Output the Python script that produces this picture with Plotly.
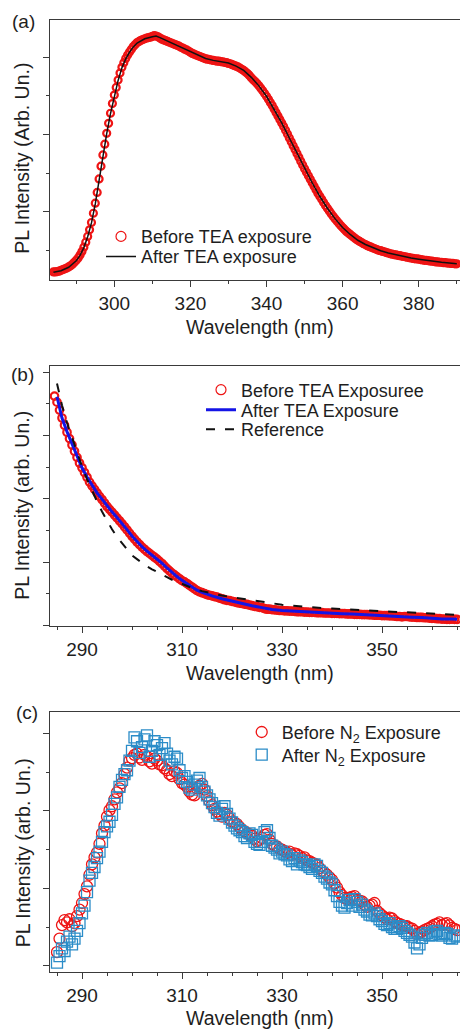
import plotly.graph_objects as go

# ---------------- data ----------------
# (a) PL spectra before / after TEA exposure (before: 0.5 nm grid starting at 284.0 nm)
a_start, a_step = 284.0, 0.5
pl_a_before = [
    0.44, 0.44, 0.45, 0.46, 0.48, 0.50, 0.52, 0.54, 0.57, 0.60,
    0.64, 0.69, 0.74, 0.80, 0.88, 0.97, 1.08, 1.21, 1.36, 1.53,
    1.72, 1.96, 2.22, 2.50, 2.85, 3.18, 3.47, 3.75, 4.03, 4.29,
    4.55, 4.80, 5.02, 5.22, 5.41, 5.59, 5.74, 5.86, 5.97, 6.06,
    6.14, 6.21, 6.28, 6.33, 6.38, 6.41, 6.44, 6.46, 6.48, 6.50,
    6.51, 6.52, 6.54, 6.56, 6.55, 6.53, 6.50, 6.47, 6.45, 6.43,
    6.41, 6.39, 6.37, 6.35, 6.33, 6.31, 6.29, 6.26, 6.24, 6.21,
    6.19, 6.16, 6.13, 6.10, 6.08, 6.06, 6.04, 6.02, 6.00, 5.98,
    5.96, 5.95, 5.94, 5.93, 5.92, 5.91, 5.90, 5.90, 5.89, 5.88,
    5.87, 5.86, 5.84, 5.83, 5.81, 5.79, 5.77, 5.75, 5.72, 5.69,
    5.66, 5.62, 5.58, 5.53, 5.47, 5.42, 5.37, 5.32, 5.26, 5.20,
    5.13, 5.06, 4.99, 4.91, 4.83, 4.75, 4.66, 4.57, 4.48, 4.39,
    4.30, 4.21, 4.11, 4.01, 3.91, 3.81, 3.71, 3.61, 3.51, 3.41,
    3.31, 3.21, 3.11, 3.02, 2.93, 2.84, 2.75, 2.66, 2.57, 2.48,
    2.40, 2.32, 2.24, 2.16, 2.09, 2.02, 1.95, 1.88, 1.82, 1.76,
    1.70, 1.64, 1.59, 1.54, 1.49, 1.45, 1.41, 1.37, 1.33, 1.29,
    1.26, 1.23, 1.20, 1.17, 1.15, 1.12, 1.10, 1.08, 1.06, 1.04,
    1.02, 1.00, 0.99, 0.97, 0.96, 0.94, 0.93, 0.91, 0.90, 0.89,
    0.88, 0.87, 0.86, 0.85, 0.84, 0.83, 0.82, 0.81, 0.80, 0.79,
    0.78, 0.78, 0.77, 0.76, 0.75, 0.74, 0.74, 0.73, 0.72, 0.72,
    0.71, 0.70, 0.70, 0.69, 0.69, 0.68, 0.68, 0.67, 0.67, 0.66,
    0.66, 0.65, 0.65]
wl_a_before = [a_start + a_step * i for i in range(len(pl_a_before))]

wl_a_after = [284, 286, 288, 290, 291, 292, 293, 294, 295, 296, 297, 298, 299, 300, 301, 302, 303, 304, 305,
              306, 308, 310, 311, 312, 314, 316, 318, 320, 322, 324, 326, 328, 330, 332, 334, 336, 338, 340,
              342, 344, 346, 348, 350, 352, 354, 356, 358, 360, 362, 364, 366, 368, 370, 372, 374, 376, 378,
              380, 382, 384, 386, 388, 390]
pl_a_after = [0.43, 0.47, 0.56, 0.73, 0.87, 1.07, 1.35, 1.71, 2.20, 2.83, 3.46, 4.02, 4.54, 5.01, 5.40, 5.73,
              5.96, 6.13, 6.27, 6.37, 6.48, 6.53, 6.55, 6.51, 6.42, 6.33, 6.24, 6.14, 6.04, 5.97, 5.92, 5.89,
              5.85, 5.77, 5.66, 5.48, 5.26, 4.99, 4.66, 4.30, 3.91, 3.51, 3.11, 2.75, 2.40, 2.09, 1.82, 1.59,
              1.41, 1.26, 1.15, 1.06, 0.99, 0.93, 0.88, 0.84, 0.80, 0.77, 0.74, 0.71, 0.69, 0.67, 0.65]

# (b) before TEA exposure (0.5 nm grid from 284.5 nm), after, and reference
b_start, b_step = 284.5, 0.5
pl_b_before = [
    7.24, 7.05, 6.80, 6.55, 6.32, 6.10, 5.90, 5.70, 5.50, 5.31,
    5.13, 4.98, 4.83, 4.68, 4.53, 4.41, 4.30, 4.19, 4.08, 3.98,
    3.87, 3.76, 3.67, 3.58, 3.49, 3.40, 3.31, 3.22, 3.12, 3.02,
    2.92, 2.82, 2.73, 2.64, 2.56, 2.48, 2.41, 2.34, 2.28, 2.22,
    2.16, 2.10, 2.03, 1.96, 1.88, 1.80, 1.73, 1.66, 1.60, 1.54,
    1.48, 1.42, 1.38, 1.33, 1.27, 1.22, 1.16, 1.11, 1.07, 1.04,
    1.01, 0.98, 0.96, 0.94, 0.92, 0.90, 0.87, 0.85, 0.82, 0.80,
    0.79, 0.77, 0.75, 0.73, 0.71, 0.70, 0.68, 0.67, 0.65, 0.63,
    0.61, 0.60, 0.58, 0.57, 0.54, 0.52, 0.52, 0.51, 0.50, 0.49,
    0.48, 0.48, 0.47, 0.47, 0.46, 0.46, 0.45, 0.44, 0.44, 0.44,
    0.43, 0.43, 0.42, 0.42, 0.42, 0.41, 0.41, 0.41, 0.40, 0.40,
    0.40, 0.39, 0.39, 0.39, 0.38, 0.38, 0.38, 0.37, 0.37, 0.37,
    0.36, 0.36, 0.36, 0.35, 0.35, 0.35, 0.34, 0.34, 0.33, 0.33,
    0.33, 0.32, 0.32, 0.32, 0.31, 0.31, 0.30, 0.29, 0.29, 0.28,
    0.29, 0.29, 0.28, 0.27, 0.27, 0.26, 0.26, 0.26, 0.25, 0.25,
    0.24, 0.23, 0.23, 0.22, 0.22, 0.21, 0.21, 0.20, 0.20, 0.21,
    0.20, 0.20]
wl_b_before = [b_start + b_step * i for i in range(len(pl_b_before))]

wl_b_after = [285, 286, 287, 288, 289, 290, 291, 292, 293, 294, 295, 296, 297, 298, 299, 300, 301, 302, 303,
              304, 305, 306, 307, 308, 309, 310, 311, 312, 313, 314, 315, 316, 318, 320, 322, 324, 326, 328,
              330, 332, 334, 336, 338, 340, 342, 344, 346, 348, 350, 352, 354, 356, 358, 360, 362, 364, 365]
pl_b_after = [7.22, 6.55, 6.12, 5.72, 5.32, 4.98, 4.69, 4.42, 4.19, 3.99, 3.78, 3.59, 3.41, 3.23, 3.03,
              2.83, 2.65, 2.49, 2.35, 2.23, 2.11, 1.97, 1.82, 1.67, 1.55, 1.43, 1.33, 1.23, 1.12, 1.05,
              0.99, 0.94, 0.85, 0.77, 0.70, 0.63, 0.57, 0.51, 0.48, 0.46, 0.44, 0.42, 0.41, 0.39, 0.38,
              0.37, 0.35, 0.34, 0.32, 0.31, 0.28, 0.27, 0.26, 0.23, 0.21, 0.21, 0.20]
wl_b_ref = [285, 286, 287, 288, 289, 290, 291, 292, 293, 294, 295, 296, 297, 298, 299, 300, 301, 302, 303,
            304, 305, 306, 307, 308, 309, 310, 312, 314, 316, 318, 320, 322, 324, 326, 328, 330, 332, 334,
            336, 338, 340, 342, 344, 346, 348, 350, 352, 354, 356, 358, 360, 362, 364, 365]
pl_b_ref = [7.64, 6.95, 6.40, 5.92, 5.45, 5.02, 4.62, 4.25, 3.92, 3.60, 3.30, 3.04, 2.80, 2.60, 2.40, 2.22,
            2.10, 1.98, 1.87, 1.78, 1.69, 1.61, 1.53, 1.45, 1.38, 1.31, 1.19, 1.09, 1.01, 0.95, 0.90, 0.85,
            0.80, 0.75, 0.70, 0.66, 0.63, 0.60, 0.58, 0.56, 0.54, 0.52, 0.50, 0.49, 0.47, 0.46, 0.44, 0.43,
            0.41, 0.40, 0.38, 0.37, 0.35, 0.34]

# (c) before / after N2 exposure (0.5 nm grid from 285.0 nm)
c_start, c_step = 285.0, 0.5
pl_c_before = [
    0.35, 0.70, 1.05, 1.18, 1.12, 1.20, 1.02, 1.10, 1.28, 1.45,
    1.62, 1.85, 2.05, 2.35, 2.62, 2.80, 2.92, 3.15, 3.42, 3.62,
    3.85, 4.02, 4.12, 4.30, 4.48, 4.58, 4.72, 4.95, 5.12, 5.30,
    5.36, 5.45, 5.48, 5.38, 5.32, 5.45, 5.40, 5.28, 5.22, 5.35,
    5.30, 5.20, 5.18, 5.10, 5.05, 4.95, 4.90, 5.02, 4.98, 4.82,
    4.72, 4.68, 4.62, 4.50, 4.42, 4.40, 4.58, 4.65, 4.70, 4.55,
    4.38, 4.25, 4.15, 4.05, 3.98, 3.92, 3.85, 3.95, 3.90, 3.80,
    3.72, 3.70, 3.66, 3.58, 3.50, 3.48, 3.42, 3.40, 3.36, 3.28,
    3.22, 3.25, 3.30, 3.38, 3.40, 3.25, 3.15, 3.10, 3.08, 3.02,
    3.00, 2.96, 2.92, 2.95, 2.86, 2.90, 2.88, 2.84, 2.78, 2.80,
    2.72, 2.70, 2.66, 2.64, 2.60, 2.52, 2.45, 2.40, 2.35, 2.28,
    2.22, 2.12, 2.02, 1.90, 1.82, 1.75, 1.72, 1.76, 1.78, 1.80,
    1.70, 1.68, 1.66, 1.58, 1.52, 1.55, 1.58, 1.62, 1.42, 1.36,
    1.30, 1.25, 1.20, 1.24, 1.22, 1.15, 1.10, 1.08, 1.05, 1.03,
    1.02, 0.98, 0.96, 0.90, 0.82, 0.85, 0.88, 0.92, 0.95, 0.98,
    1.02, 1.06, 1.08, 1.12, 1.05, 1.08, 1.10, 1.04, 0.98, 0.95,
    0.92]
pl_c_after = [
    0.08, 0.25, 0.45, 0.38, 0.62, 0.75, 0.55, 0.70, 0.90, 1.10,
    1.35, 1.55, 1.90, 2.20, 2.40, 2.55, 2.78, 2.95, 3.20, 3.45,
    3.60, 3.72, 3.90, 4.18, 4.35, 4.62, 4.80, 4.95, 5.05, 5.30,
    5.55, 5.90, 5.80, 5.50, 5.65, 5.85, 5.95, 5.40, 5.55, 5.80,
    5.70, 5.45, 5.62, 5.75, 5.48, 5.30, 5.20, 5.40, 5.35, 5.05,
    4.85, 4.90, 4.75, 4.60, 4.55, 4.68, 4.78, 4.85, 4.62, 4.50,
    4.40, 4.30, 4.20, 4.10, 3.95, 3.88, 4.05, 4.12, 3.92, 3.80,
    3.70, 3.62, 3.55, 3.50, 3.45, 3.35, 3.30, 3.42, 3.38, 3.20,
    3.15, 3.12, 3.20, 3.45, 3.50, 3.30, 3.10, 3.05, 3.00, 2.90,
    2.95, 2.88, 2.85, 2.75, 2.70, 2.78, 2.62, 2.72, 2.68, 2.62,
    2.60, 2.55, 2.50, 2.62, 2.58, 2.45, 2.40, 2.30, 2.25, 2.15,
    2.10, 1.95, 1.80, 1.65, 1.55, 1.50, 1.62, 1.70, 1.55, 1.72,
    1.65, 1.52, 1.58, 1.45, 1.40, 1.32, 1.30, 1.35, 1.28, 1.20,
    1.15, 1.08, 1.05, 1.10, 1.00, 0.95, 0.95, 1.02, 0.98, 0.90,
    0.85, 0.80, 0.75, 0.60, 0.45, 0.55, 0.72, 0.80, 0.85, 0.78,
    0.80, 0.88, 0.90, 0.82, 0.78, 0.85, 0.82, 0.72, 0.70, 0.78,
    0.75]
wl_c = [c_start + c_step * i for i in range(len(pl_c_before))]

panel_labels = ["(a)", "(b)", "(c)"]
x_title = "Wavelength (nm)"
y_titles = ["PL Intensity (Arb. Un.)", "PL Intensity (arb. Un.)", "PL Intensity (arb. Un.)"]

# ---------------- styling ----------------
FONT = "Liberation Sans, Arial, Helvetica, sans-serif"
TXT = "#1e1e1e"
AX = "#3a3a3a"
RED = "#ee1414"
BLUE_LINE = "#1414e6"
BLUE_SQ = "#2a8cc8"
W, H = 460, 1029


def py2paper(p):
    return 1 - p / H


fig = go.Figure()

# (a)
fig.add_trace(go.Scatter(x=wl_a_before, y=pl_a_before, mode="markers", name="Before TEA exposure",
                         marker=dict(symbol="circle-open", size=7, color=RED, line=dict(width=2.2)),
                         xaxis="x", yaxis="y", showlegend=False))
fig.add_trace(go.Scatter(x=[None], y=[None], mode="markers", name="Before TEA exposure",
                         marker=dict(symbol="circle-open", size=10, color=RED, line=dict(width=1.2)),
                         xaxis="x", yaxis="y", legend="legend"))
fig.add_trace(go.Scatter(x=wl_a_after, y=pl_a_after, mode="lines", name="After TEA exposure",
                         line=dict(color="#111111", width=1.5),
                         xaxis="x", yaxis="y", legend="legend2"))

# (b)
fig.add_trace(go.Scatter(x=wl_b_before, y=pl_b_before, mode="markers", name="Before TEA Exposuree",
                         marker=dict(symbol="circle-open", size=7.5, color=RED, line=dict(width=2.2)),
                         xaxis="x2", yaxis="y2", showlegend=False))
fig.add_trace(go.Scatter(x=[None], y=[None], mode="markers", name="Before TEA Exposuree",
                         marker=dict(symbol="circle-open", size=10, color=RED, line=dict(width=1.2)),
                         xaxis="x2", yaxis="y2", legend="legend3"))
fig.add_trace(go.Scatter(x=wl_b_after, y=pl_b_after, mode="lines", name="After TEA Exposure",
                         line=dict(color=BLUE_LINE, width=3),
                         xaxis="x2", yaxis="y2", legend="legend4"))
fig.add_trace(go.Scatter(x=wl_b_ref, y=pl_b_ref, mode="lines", name="Reference",
                         line=dict(color="#111111", width=2, dash="9px,10px"),
                         xaxis="x2", yaxis="y2", legend="legend5"))

# (c)
fig.add_trace(go.Scatter(x=wl_c, y=pl_c_before, mode="markers", name="Before N<sub>2</sub> Exposure",
                         marker=dict(symbol="circle-open", size=11, color=RED, line=dict(width=1.3)),
                         xaxis="x3", yaxis="y3", legend="legend6"))
fig.add_trace(go.Scatter(x=wl_c, y=pl_c_after, mode="markers", name="After N<sub>2</sub> Exposure",
                         marker=dict(symbol="square-open", size=11, color=BLUE_SQ, line=dict(width=1.3)),
                         xaxis="x3", yaxis="y3", legend="legend7"))


def xaxis_cfg(rng, tick0, minor_dtick, anchor):
    return dict(domain=[50 / W, 1.0], range=rng, anchor=anchor, tickmode="linear", tick0=tick0, dtick=20,
                ticks="outside", ticklen=6, tickwidth=1.2, tickcolor=AX, showline=True, linecolor=AX,
                linewidth=1.3, mirror=True, showgrid=False, zeroline=False,
                tickfont=dict(family=FONT, size=19, color=TXT),
                minor=dict(tickmode="linear", tick0=tick0, dtick=minor_dtick, ticks="outside", ticklen=3,
                           tickwidth=1.2, tickcolor=AX, showgrid=False))


def yaxis_cfg(dom, rng, anchor):
    return dict(domain=dom, range=rng, anchor=anchor, tickmode="linear", tick0=0, dtick=2,
                ticks="outside", ticklen=6, tickwidth=1.2, tickcolor=AX, showline=True, linecolor=AX,
                linewidth=1.3, mirror=False, showgrid=False, zeroline=False, showticklabels=False,
                minor=dict(tickmode="linear", tick0=0, dtick=1, ticks="outside", ticklen=3,
                           tickwidth=1.2, tickcolor=AX, showgrid=False))


def legend_at(cx, cy):
    # one legend per entry: symbol centre at (cx, cy) in pixels
    return dict(x=(cx - 20) / W, y=py2paper(cy), xanchor="left", yanchor="middle",
                bgcolor="rgba(0,0,0,0)", borderwidth=0, itemwidth=30,
                font=dict(family=FONT, size=18, color=TXT))


fig.update_layout(
    width=W, height=H, margin=dict(l=0, r=0, t=0, b=0),
    paper_bgcolor="white", plot_bgcolor="white",
    font=dict(family=FONT, color=TXT),
    xaxis=xaxis_cfg([283.1, 390.85], 300, 10, "y"),
    yaxis=yaxis_cfg([py2paper(280), py2paper(19.5)], [0.2306, 6.979], "x"),
    xaxis2=xaxis_cfg([283.6, 365.6], 290, 5, "y2"),
    yaxis2=yaxis_cfg([py2paper(625.7), py2paper(366)], [0, 8.19], "x2"),
    xaxis3=xaxis_cfg([283.6, 365.6], 290, 5, "y3"),
    yaxis3=yaxis_cfg([py2paper(971.7), py2paper(712.3)], [-0.155, 6.548], "x3"),
    legend=legend_at(121, 236.7),
    legend2=legend_at(121, 256.7),
    legend3=legend_at(221, 390),
    legend4=legend_at(221, 410),
    legend5=legend_at(221, 429.5),
    legend6=legend_at(261.7, 732.3),
    legend7=legend_at(261.7, 755),
    showlegend=True,
)

annos = []
for lab, (px, py) in zip(panel_labels, [(23.5, 21.7), (22.5, 374), (26.5, 712)]):
    annos.append(dict(text=lab, x=px / W, y=py2paper(py), xref="paper", yref="paper", showarrow=False,
                      xanchor="center", yanchor="middle", font=dict(family=FONT, size=19, color=TXT)))
for t, (px, py) in zip(y_titles, [(21.7, 158), (22, 505.8), (23.3, 853)]):
    annos.append(dict(text=t, x=px / W, y=py2paper(py), xref="paper", yref="paper", showarrow=False,
                      textangle=-90, xanchor="center", yanchor="middle",
                      font=dict(family=FONT, size=19.5, color=TXT)))
for py in [326.7, 673, 1018.3]:
    annos.append(dict(text=x_title, x=259.7 / W, y=py2paper(py), xref="paper", yref="paper", showarrow=False,
                      xanchor="center", yanchor="middle", font=dict(family=FONT, size=19.5, color=TXT)))
fig.update_layout(annotations=annos)

fig.write_html("out.html", config={"displayModeBar": False},
               post_script="document.body.style.margin='0px';document.body.style.overflow='hidden';")
